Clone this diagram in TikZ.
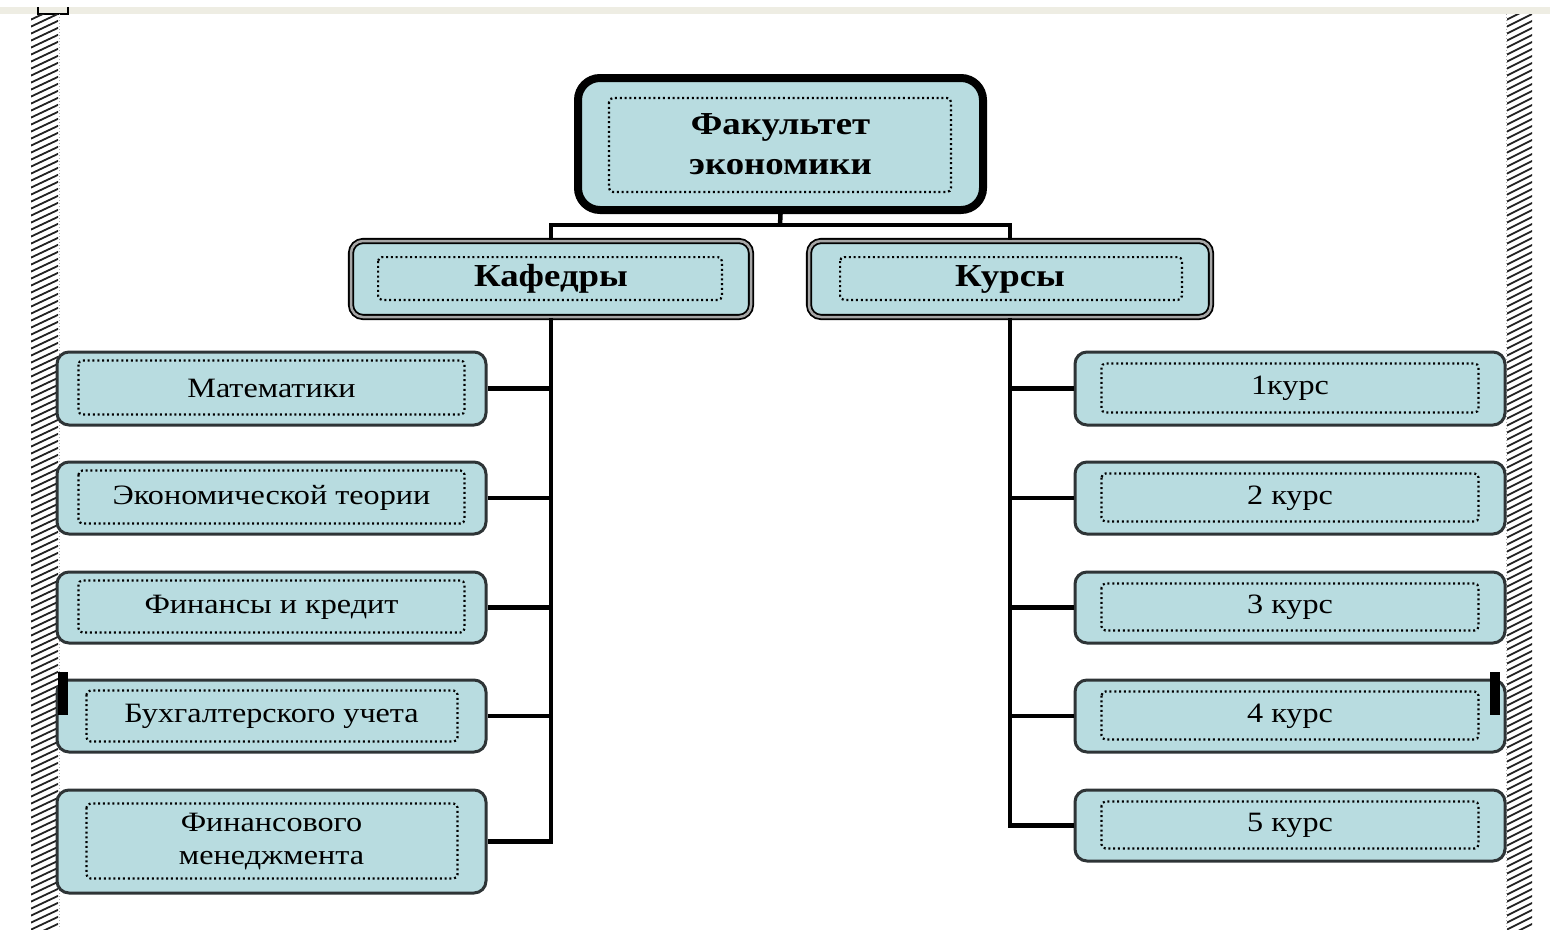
\documentclass[tikz,border=0pt]{standalone}
\usepackage{fontspec}
\newfontfamily\reg[FakeStretch=1.15]{Liberation Serif}
\definecolor{boxfill}{HTML}{B8DCE0}
\definecolor{boxline}{HTML}{2E3436}
\definecolor{band}{HTML}{EEEDE3}
\definecolor{hatchc}{HTML}{222222}
\tikzset{
  leaf/.style={rectangle, rounded corners=12pt, draw=boxline, fill=boxfill, line width=3pt,
    inner sep=0pt, align=center, text=black, font=\reg\fontsize{28}{33}\selectfont},
  midbox/.style={rectangle, rounded corners=12pt, draw=black, double=gray!70, double distance=2.5pt,
    line width=1.8pt, fill=boxfill, inner sep=0pt, align=center, text=black,
    font=\reg\bfseries\fontsize{32}{38}\selectfont, minimum height=76pt},
  topbox/.style={rectangle, rounded corners=22pt, draw=black, line width=8pt, fill=boxfill,
    inner sep=0pt, align=center, text=black, font=\reg\bfseries\fontsize{32}{40}\selectfont,
    minimum width=405pt, minimum height=132pt},
  dotbox/.style={draw=black, line width=2.2pt, dash pattern=on 2pt off 2.8pt, rounded corners=4pt},
  conn/.style={draw=black, line width=4.5pt},
  hatchline/.style={draw=hatchc, line width=1.8pt},
  handle/.style={fill=black, draw=none}
}
\begin{document}
\begin{tikzpicture}[x=1pt, y=-1pt]
\useasboundingbox (0,0) rectangle (1550,929);
\fill[white] (0,0) rectangle (1550,929);
% top band
\fill[band] (0,7) rectangle (1550,14);
\draw[black, line width=1.5pt] (38,7) -- (38,14) -- (68,14) -- (68,7);
% hatched strips
\begin{scope}
  \clip (31,14) rectangle (58,929);
  \foreach \y in {0,7,...,950} \draw[hatchline] (28,{\y+14}) -- (62,{\y-2});
\end{scope}
\draw[gray!60, line width=1pt, dash pattern=on 1pt off 2pt] (59,14) -- (59,929);
\begin{scope}
  \clip (1507,14) rectangle (1532,929);
  \foreach \y in {0,7,...,950} \draw[hatchline] (1504,{\y+14}) -- (1536,{\y-2});
\end{scope}
\draw[gray!60, line width=1pt, dash pattern=on 1pt off 2pt] (1506,14) -- (1506,929);

% top node
\node[topbox] (top) at (780.5,144) {Факультет\\экономики};
\draw[dotbox] ([shift={(35,24)}]top.north west) rectangle ([shift={(-36,-22)}]top.south east);

% middle nodes
\node[midbox, minimum width=400pt] (kaf) at (551,279) {Кафедры};
\draw[dotbox] ([shift={(28,17)}]kaf.north west) rectangle ([shift={(-30,-18)}]kaf.south east);
\node[midbox, minimum width=402pt] (kur) at (1010,279) {Курсы};
\draw[dotbox] ([shift={(32,17)}]kur.north west) rectangle ([shift={(-30,-18)}]kur.south east);

% left leaves
\node[leaf, minimum width=429pt, minimum height=73pt] (l1) at (271.5,388.5) {Математики};
\node[leaf, minimum width=429pt, minimum height=72pt] (l2) at (271.5,498) {Экономической теории};
\node[leaf, minimum width=429pt, minimum height=71pt] (l3) at (271.5,607.5) {Финансы и кредит};
\node[leaf, minimum width=429pt, minimum height=72pt] (l4) at (271.5,716) {Бухгалтерского учета};
\node[leaf, minimum width=429pt, minimum height=103pt] (l5) at (271.5,841.5) {Финансового\\менеджмента};
\foreach \n in {l1,l2,l3}
  \draw[dotbox] ([shift={(23,10)}]\n.north west) rectangle ([shift={(-23,-12)}]\n.south east);
\draw[dotbox] ([shift={(31,12)}]l4.north west) rectangle ([shift={(-30,-12)}]l4.south east);
\draw[dotbox] ([shift={(31,15)}]l5.north west) rectangle ([shift={(-30,-16)}]l5.south east);

% right leaves
\node[leaf, minimum width=430pt, minimum height=73pt] (r1) at (1290,388.5) {1курс};
\node[leaf, minimum width=430pt, minimum height=72pt] (r2) at (1290,498) {2 курс};
\node[leaf, minimum width=430pt, minimum height=71pt] (r3) at (1290,607.5) {3 курс};
\node[leaf, minimum width=430pt, minimum height=72pt] (r4) at (1290,716) {4 курс};
\node[leaf, minimum width=430pt, minimum height=71pt] (r5) at (1290,825.5) {5 курс};
\foreach \n in {r1,r2,r3,r4,r5}
  \draw[dotbox] ([shift={(28,13)}]\n.north west) rectangle ([shift={(-28,-14)}]\n.south east);

% connectors
\coordinate (bus) at (780,225);
\draw[conn] (top.south) -- (bus);
\draw[conn] (bus) -| (kaf.north);
\draw[conn] (bus) -| (kur.north);
\draw[conn] (kaf.south) |- (l5.east);
\foreach \n in {l1,l2,l3,l4} \draw[conn] (\n.east) -- (\n.east -| kaf.south);
\draw[conn] (kur.south) |- (r5.west);
\foreach \n in {r1,r2,r3,r4} \draw[conn] (\n.west) -- (\n.west -| kur.south);

% selection handles
\fill[handle] (58,672) rectangle (68,715);
\fill[handle] (1490,672) rectangle (1500,715);
\end{tikzpicture}
\end{document}
